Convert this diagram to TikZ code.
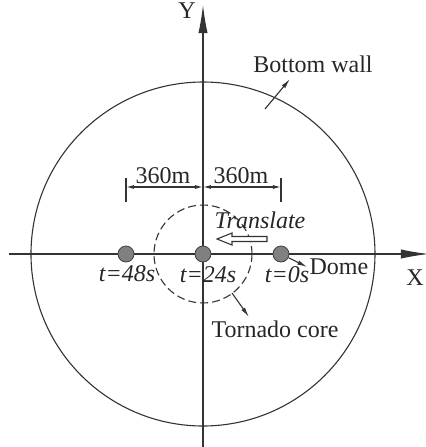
\documentclass[tikz,border=0pt]{standalone}
\usepackage{fontspec}
\setmainfont{Liberation Serif}
\usepackage{tikz}
\usetikzlibrary{positioning,arrows.meta}

\begin{document}
\begin{tikzpicture}[
    x=0.5pt, y=0.5pt,
    font=\fontsize{12}{14}\selectfont,
    ln/.style={draw=black!80, line width=0.55pt},
    axis/.style={ln, -{Latex[length=14pt,width=4.6pt]}},
    lead/.style={ln, -{Latex[length=5pt,width=2.2pt]}},
    dim/.style={ln, {Latex[length=4pt,width=2pt]}-{Latex[length=4pt,width=2pt]}},
    dome/.style={circle, draw=black!75, fill=black!50, minimum size=8pt, inner sep=0pt},
    lbl/.style={text=black!85, inner sep=1pt},
    tlbl/.style={lbl, font=\fontsize{12}{14}\selectfont\itshape},
  ]
    \useasboundingbox (-203,-193) rectangle (223,254);

    % axes
    \coordinate (xs) at (-194,0);
    \coordinate (xe) at (226,0);
    \coordinate (ys) at (0,-195);
    \coordinate (ye) at (0,249);
    \draw[axis] (xs) -- (xe);
    \draw[axis] (ys) -- (ye);
    \node[lbl] (ylab) at (-16,243) {Y};
    \node[lbl] (xlab) at (212,-24) {X};

    % bottom wall and tornado core
    \draw[ln] (0,0) circle (172);
    \draw[ln, dash pattern=on 4pt off 2pt] (0,0) circle (49);

    % dome positions
    \node[dome] (d48) at (-77,0) {};
    \node[dome] (d24) at (0,0) {};
    \node[dome] (d0)  at (78,0) {};
    \node[tlbl] (t48) at (-76,-20) {t=48s};
    \node[tlbl] (t24) at (5,-21) {t=24s};
    \node[tlbl] (t0)  at (84,-21) {t=0s};

    % dimensions
    \coordinate (el) at (-77,67);
    \coordinate (ec) at (0,67);
    \coordinate (er) at (78,67);
    \draw[ln] (-77,52) -- (-77,76);
    \draw[ln] (78,52) -- (78,76);
    \draw[dim] (el) -- (ec);
    \draw[dim] (ec) -- (er);
    \node[lbl, anchor=base] (dl) at (-40,71) {360m};
    \node[lbl, anchor=base] (dr) at (38,71) {360m};

    % translation
    \node[tlbl] (tr) at (57,34) {Translate};
    \draw[draw=black!80, line width=0.55pt, fill=white]
      (14,15) -- (29,21) -- (29,17.5) -- (64,17.5) -- (64,12.5) -- (29,12.5) -- (29,9) -- cycle;

    % labels
    \node[lbl] (dlab) at (136,-13) {Dome};
    \draw[lead] (d0) -- (dlab.west);

    \node[lbl] (bw) at (110,190) {Bottom wall};
    \coordinate (bwa) at (62,145);
    \coordinate (bwb) at (87,175);
    \draw[lead] (bwa) -- (bwb);

    \node[lbl] (tc) at (72,-75) {Tornado core};
    \coordinate (tca) at (29,-39);
    \coordinate (tcb) at (46,-63);
    \draw[lead] (tca) -- (tcb);
  \end{tikzpicture}
\end{document}
